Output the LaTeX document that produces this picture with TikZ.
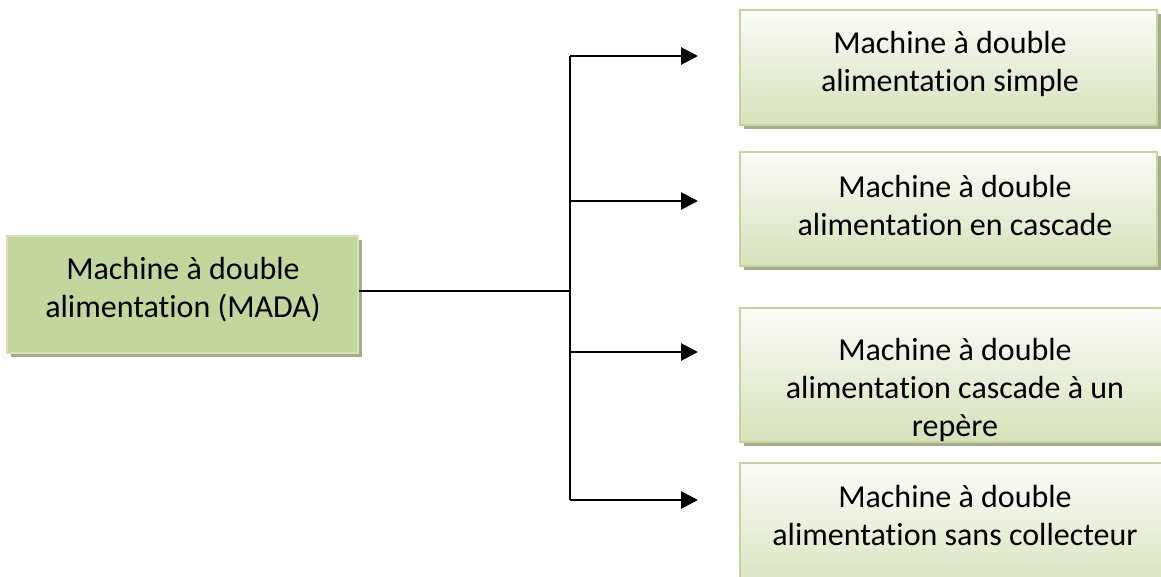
\documentclass[tikz,border=0pt]{standalone}
\usepackage{fontspec}
\setmainfont{Carlito}[Ligatures=NoCommon]
\usetikzlibrary{arrows.meta,shadows}

\definecolor{madafill}{HTML}{C3D69B}
\definecolor{madaedge}{HTML}{D3E1B6}
\definecolor{typetop}{HTML}{FBFCF8}
\definecolor{typebot}{HTML}{D5E2BA}
\definecolor{typeedge}{HTML}{C3D69B}
\definecolor{shadowc}{HTML}{A3AC8C}

\tikzset{
  boxbase/.style={rectangle, inner sep=0pt, line width=1.8pt,
    general shadow={fill=shadowc, shadow xshift=4pt, shadow yshift=-4pt}},
  madabox/.style={boxbase, fill=madafill, draw=madaedge},
  typebox/.style={boxbase, draw=typeedge, top color=typetop, bottom color=typebot},
  label/.style={align=center, inner sep=0pt, font=\fontsize{32}{38}\selectfont},
  link/.style={line width=2.2pt},
  arrowlink/.style={line width=2.8pt, -{Triangle[length=17pt,width=17pt]}},
}

\begin{document}
\begin{tikzpicture}[x=1pt,y=-1pt]
  \useasboundingbox (0,0) rectangle (1161,576);
  \clip (0,0) rectangle (1161,576);

  % source box
  \node[madabox, minimum width=351pt, minimum height=117pt] (mada) at (182.5,294.5) {};
  \node[label] (madatxt) at (183,290) {Machine à double\\alimentation (MADA)};

  % the four variants
  \node[typebox, minimum width=417pt, minimum height=115pt] (t1) at (948.5,67.5) {};
  \node[label] (t1txt) at (950,64) {Machine à double\\alimentation simple};

  \node[typebox, minimum width=417pt, minimum height=114pt] (t2) at (948.5,209) {};
  \node[label] (t2txt) at (955,206) {Machine à double\\alimentation en cascade};

  \node[typebox, minimum width=430pt, minimum height=134pt] (t3) at (955,375) {};
  \node[label] (t3txt) at (955,390) {Machine à double\\alimentation cascade à un\\repère};

  \node[typebox, minimum width=430pt, minimum height=137pt] (t4) at (955,531.5) {};
  \node[label] (t4txt) at (955,515) {Machine à double\\alimentation sans collecteur};

  % distribution bus
  \coordinate (junc) at (570,291);
  \coordinate (b1) at (570,56);
  \coordinate (b2) at (570,201);
  \coordinate (b3) at (570,352);
  \coordinate (b4) at (570,500);
  \coordinate (e1) at (698,56);
  \coordinate (e2) at (698,201);
  \coordinate (e3) at (698,352);
  \coordinate (e4) at (698,500);

  \draw[link] (mada.east |- junc) -- (junc);
  \draw[line width=2.8pt] (b1) -- (b4);
  \draw[arrowlink] (b1) -- (e1);
  \draw[arrowlink] (b2) -- (e2);
  \draw[arrowlink] (b3) -- (e3);
  \draw[arrowlink] (b4) -- (e4);
\end{tikzpicture}
\end{document}
